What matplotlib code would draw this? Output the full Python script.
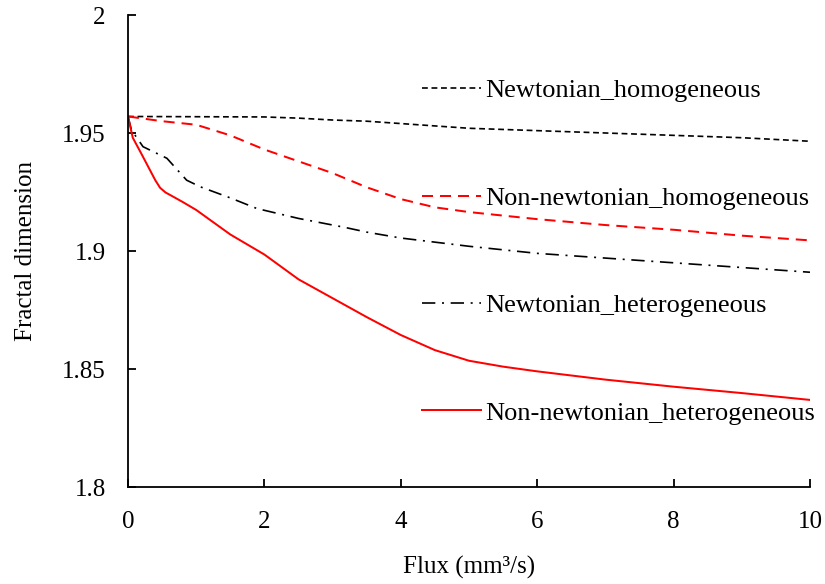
import matplotlib
matplotlib.use("Agg")
import matplotlib.pyplot as plt
from matplotlib.ticker import FixedLocator

plt.rcParams['font.family'] = ['Liberation Serif', 'DejaVu Serif']

# ---- data ----
x_nh = [0, 1, 2, 2.5, 3, 3.5, 4, 5, 6, 7, 8, 9, 10]
y_nh = [1.957, 1.9569, 1.9568, 1.9563, 1.9555, 1.955, 1.954, 1.952, 1.951, 1.950, 1.949, 1.948, 1.9465]

x_nnh = [0, 0.5, 1, 1.5, 2, 2.5, 3, 3.5, 4, 4.5, 5, 6, 7, 8, 9, 10]
y_nnh = [1.957, 1.955, 1.9535, 1.949, 1.943, 1.938, 1.933, 1.927, 1.922, 1.9185, 1.9165,
         1.9135, 1.911, 1.909, 1.9065, 1.9045]

x_nhet = [0, 0.05, 0.22, 0.57, 0.86, 1.06, 1.5, 1.89, 2.5, 3.18, 3.5, 4, 5, 6, 7, 8, 9, 10]
y_nhet = [1.957, 1.9513, 1.9442, 1.9393, 1.930, 1.9272, 1.9225, 1.918, 1.9138, 1.910,
          1.908, 1.9055, 1.902, 1.899, 1.897, 1.895, 1.893, 1.891]

x_nnhet = [0, 0.07, 0.2, 0.3, 0.4, 0.47, 0.55, 0.62, 0.8, 1.0, 1.5, 2.0, 2.5, 3.0, 3.5,
           4.0, 4.5, 5.0, 5.5, 6, 7, 8, 9, 10]
y_nnhet = [1.957, 1.948, 1.941, 1.9355, 1.930, 1.9268, 1.9248, 1.9237, 1.9208, 1.9174,
           1.907, 1.8985, 1.888, 1.880, 1.872, 1.8644, 1.858, 1.8535, 1.851, 1.849,
           1.8455, 1.8425, 1.8398, 1.8369]

labels = ['Newtonian_homogeneous', 'Non-newtonian_homogeneous',
          'Newtonian_heterogeneous', 'Non-newtonian_heterogeneous']

xticks = [0, 2, 4, 6, 8, 10]
yticks = [1.8, 1.85, 1.9, 1.95, 2.0]
yticklabels = ['1.8', '1.85', '1.9', '1.95', '2']

# ---- figure ----
fig = plt.figure(figsize=(8.25, 5.84), dpi=100)
ax = fig.add_axes([128/825, 1-487/584, (810-128)/825, (487-15)/584])

lw = 1.2
l1, = ax.plot(x_nh, y_nh, color='black', lw=lw, linestyle=(0, (3.5, 2.2)))
l2, = ax.plot(x_nnh, y_nnh, color='#ff0000', lw=lw*1.2, linestyle=(0, (5.5, 3.5)))
l3, = ax.plot(x_nhet, y_nhet, color='black', lw=lw, linestyle=(0, (8, 4, 1.2, 4)))
l4, = ax.plot(x_nnhet, y_nnhet, color='#ff0000', lw=lw*1.2, linestyle='-')

ax.set_xlim(0, 10)
ax.set_ylim(1.8, 2.0)
ax.xaxis.set_major_locator(FixedLocator(xticks))
ax.set_yticks(yticks)
ax.set_yticklabels(yticklabels)

for s in ['top', 'right']:
    ax.spines[s].set_visible(False)
for s in ['left', 'bottom']:
    ax.spines[s].set_linewidth(1.3)

ax.tick_params(axis='both', direction='in', length=6, width=1.3, labelsize=18)
ax.tick_params(axis='y', pad=16)
ax.tick_params(axis='x', pad=17)

ax.set_xlabel('Flux (mm\u00b3/s)', fontsize=18, labelpad=17)
ax.set_ylabel('Fractal dimension', fontsize=18, labelpad=18)

ax.legend([l1, l2, l3, l4], labels, loc='upper left',
          bbox_to_anchor=((422-128)/682, (487-79)/472), frameon=False,
          fontsize=19, handlelength=2.25, handletextpad=0.14,
          labelspacing=3.18, borderpad=0, borderaxespad=0)

fig.savefig('out.png', dpi=100)
